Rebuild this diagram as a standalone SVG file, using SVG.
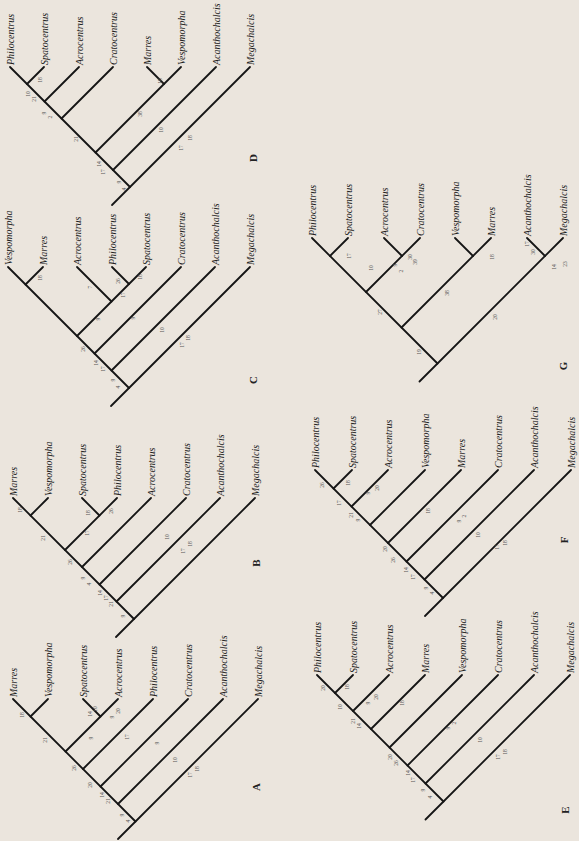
<svg xmlns="http://www.w3.org/2000/svg" width="579" height="841" viewBox="0 0 579 841">
<style>
.br{stroke:#151515;stroke-width:1.8;stroke-linecap:round;fill:none}
.tx{font-family:"Liberation Serif",serif;font-style:italic;font-size:10px;fill:#1e1e1e}
.n{font-family:"Liberation Serif",serif;font-size:5.5px;fill:#555;text-anchor:middle}
.lt{font-family:"Liberation Serif",serif;font-weight:bold;font-size:11px;fill:#222;text-anchor:middle}
</style>
<rect width="579" height="841" fill="#ebe5dd"/>

<!-- Tree D -->
<g id="tree-D">
<g id="D-edges" class="br">
<line x1="112" y1="205" x2="250" y2="67"/>
<line x1="130" y1="187" x2="10" y2="67"/>
<line x1="113" y1="170" x2="216" y2="67"/>
<line x1="95.5" y1="152.5" x2="181" y2="67"/>
<line x1="164" y1="84" x2="147" y2="67"/>
<line x1="61.5" y1="118.5" x2="113" y2="67"/>
<line x1="44.5" y1="101.5" x2="79" y2="67"/>
<line x1="27" y1="84" x2="44" y2="67"/>
</g>
<g id="D-taxa" class="tx">
<g id="D-Philocentrus"><text transform="translate(14,65) rotate(-90)">Philocentrus</text></g>
<g id="D-Spatocentrus"><text transform="translate(48,65) rotate(-90)">Spatocentrus</text></g>
<g id="D-Acrocentrus"><text transform="translate(83,65) rotate(-90)">Acrocentrus</text></g>
<g id="D-Cratocentrus"><text transform="translate(117,65) rotate(-90)">Cratocentrus</text></g>
<g id="D-Marres"><text transform="translate(151,65) rotate(-90)">Marres</text></g>
<g id="D-Vespomorpha"><text transform="translate(185,65) rotate(-90)">Vespomorpha</text></g>
<g id="D-Acanthochalcis"><text transform="translate(220,65) rotate(-90)">Acanthochalcis</text></g>
<g id="D-Megachalcis"><text transform="translate(254,65) rotate(-90)">Megachalcis</text></g>
</g>
<g id="D-nums" class="n">
<text transform="translate(40,80) rotate(-90)" dy="2">18</text>
<text transform="translate(28,94) rotate(-90)" dy="2">10</text>
<text transform="translate(34,99) rotate(-90)" dy="2">21</text>
<text transform="translate(44,113) rotate(-90)" dy="2">9</text>
<text transform="translate(50,117) rotate(-90)" dy="2">2</text>
<text transform="translate(76,139) rotate(-90)" dy="2">21</text>
<text transform="translate(140,114) rotate(-90)" dy="2">38</text>
<text transform="translate(160,81) rotate(-90)" dy="2">18</text>
<text transform="translate(161,130) rotate(-90)" dy="2">10</text>
<text transform="translate(181,148) rotate(-90)" dy="2">17</text>
<text transform="translate(190,138) rotate(-90)" dy="2">18</text>
<text transform="translate(99,164) rotate(-90)" dy="2">14</text>
<text transform="translate(103,172) rotate(-90)" dy="2">17</text>
<text transform="translate(119,182) rotate(-90)" dy="2">9</text>
<text transform="translate(124,189) rotate(-90)" dy="2">4</text>
</g>
<g id="D-label"><text class="lt" transform="translate(253,158) rotate(-90)" dy="4">D</text></g>
</g>

<!-- Tree C -->
<g id="tree-C">
<g id="C-edges" class="br">
<line x1="111" y1="406" x2="250" y2="267"/>
<line x1="129" y1="388" x2="8" y2="267"/>
<line x1="111.5" y1="370.5" x2="215" y2="267"/>
<line x1="94.5" y1="353.5" x2="181" y2="267"/>
<line x1="77" y1="336" x2="146" y2="267"/>
<line x1="25.5" y1="284.5" x2="43" y2="267"/>
<line x1="111.5" y1="301.5" x2="77" y2="267"/>
<line x1="129" y1="284" x2="112" y2="267"/>
</g>
<g id="C-taxa" class="tx">
<g id="C-Vespomorpha"><text transform="translate(12,265) rotate(-90)">Vespomorpha</text></g>
<g id="C-Marres"><text transform="translate(47,265) rotate(-90)">Marres</text></g>
<g id="C-Acrocentrus"><text transform="translate(81,265) rotate(-90)">Acrocentrus</text></g>
<g id="C-Philocentrus"><text transform="translate(116,265) rotate(-90)">Philocentrus</text></g>
<g id="C-Spatocentrus"><text transform="translate(150,265) rotate(-90)">Spatocentrus</text></g>
<g id="C-Cratocentrus"><text transform="translate(185,265) rotate(-90)">Cratocentrus</text></g>
<g id="C-Acanthochalcis"><text transform="translate(219,265) rotate(-90)">Acanthochalcis</text></g>
<g id="C-Megachalcis"><text transform="translate(254,265) rotate(-90)">Megachalcis</text></g>
</g>
<g id="C-nums" class="n">
<text transform="translate(40,278) rotate(-90)" dy="2">18</text>
<text transform="translate(90,287) rotate(-90)" dy="2">7</text>
<text transform="translate(118,281) rotate(-90)" dy="2">26</text>
<text transform="translate(140,277) rotate(-90)" dy="2">18</text>
<text transform="translate(123,295) rotate(-90)" dy="2">17</text>
<text transform="translate(98,319) rotate(-90)" dy="2">9</text>
<text transform="translate(133,318) rotate(-90)" dy="2">9</text>
<text transform="translate(162,330) rotate(-90)" dy="2">10</text>
<text transform="translate(182,345) rotate(-90)" dy="2">17</text>
<text transform="translate(188,338) rotate(-90)" dy="2">18</text>
<text transform="translate(83,349) rotate(-90)" dy="2">26</text>
<text transform="translate(96,363) rotate(-90)" dy="2">14</text>
<text transform="translate(103,369) rotate(-90)" dy="2">17</text>
<text transform="translate(113,380) rotate(-90)" dy="2">9</text>
<text transform="translate(118,387) rotate(-90)" dy="2">4</text>
</g>
<g id="C-label"><text class="lt" transform="translate(253,380) rotate(-90)" dy="4">C</text></g>
</g>

<!-- Tree B -->
<g id="tree-B">
<g id="B-edges" class="br">
<line x1="116" y1="637" x2="255" y2="498"/>
<line x1="134" y1="619" x2="13" y2="498"/>
<line x1="116.5" y1="601.5" x2="220" y2="498"/>
<line x1="99.5" y1="584.5" x2="186" y2="498"/>
<line x1="82" y1="567" x2="151" y2="498"/>
<line x1="65" y1="550" x2="117" y2="498"/>
<line x1="30.5" y1="515.5" x2="48" y2="498"/>
<line x1="99.5" y1="515.5" x2="82" y2="498"/>
</g>
<g id="B-taxa" class="tx">
<g id="B-Marres"><text transform="translate(17,496) rotate(-90)">Marres</text></g>
<g id="B-Vespomorpha"><text transform="translate(52,496) rotate(-90)">Vespomorpha</text></g>
<g id="B-Spatocentrus"><text transform="translate(86,496) rotate(-90)">Spatocentrus</text></g>
<g id="B-Philocentrus"><text transform="translate(121,496) rotate(-90)">Philocentrus</text></g>
<g id="B-Acrocentrus"><text transform="translate(155,496) rotate(-90)">Acrocentrus</text></g>
<g id="B-Cratocentrus"><text transform="translate(190,496) rotate(-90)">Cratocentrus</text></g>
<g id="B-Acanthochalcis"><text transform="translate(224,496) rotate(-90)">Acanthochalcis</text></g>
<g id="B-Megachalcis"><text transform="translate(259,496) rotate(-90)">Megachalcis</text></g>
</g>
<g id="B-nums" class="n">
<text transform="translate(20,510) rotate(-90)" dy="2">18</text>
<text transform="translate(43,538) rotate(-90)" dy="2">21</text>
<text transform="translate(88,513) rotate(-90)" dy="2">18</text>
<text transform="translate(111,511) rotate(-90)" dy="2">26</text>
<text transform="translate(87,533) rotate(-90)" dy="2">17</text>
<text transform="translate(167,537) rotate(-90)" dy="2">10</text>
<text transform="translate(183,551) rotate(-90)" dy="2">17</text>
<text transform="translate(190,544) rotate(-90)" dy="2">18</text>
<text transform="translate(70,562) rotate(-90)" dy="2">26</text>
<text transform="translate(83,578) rotate(-90)" dy="2">9</text>
<text transform="translate(89,584) rotate(-90)" dy="2">4</text>
<text transform="translate(100,593) rotate(-90)" dy="2">14</text>
<text transform="translate(106,598) rotate(-90)" dy="2">17</text>
<text transform="translate(111,604) rotate(-90)" dy="2">21</text>
<text transform="translate(123,616) rotate(-90)" dy="2">9</text>
</g>
<g id="B-label"><text class="lt" transform="translate(256,563) rotate(-90)" dy="4">B</text></g>
</g>

<!-- Tree A -->
<g id="tree-A">
<g id="A-edges" class="br">
<line x1="118" y1="839" x2="258" y2="699"/>
<line x1="135.5" y1="821.5" x2="13" y2="699"/>
<line x1="118" y1="804" x2="223" y2="699"/>
<line x1="100.5" y1="786.5" x2="188" y2="699"/>
<line x1="83" y1="769" x2="153" y2="699"/>
<line x1="65.5" y1="751.5" x2="118" y2="699"/>
<line x1="30.5" y1="716.5" x2="48" y2="699"/>
<line x1="100.5" y1="716.5" x2="83" y2="699"/>
</g>
<g id="A-taxa" class="tx">
<g id="A-Marres"><text transform="translate(17,697) rotate(-90)">Marres</text></g>
<g id="A-Vespomorpha"><text transform="translate(52,697) rotate(-90)">Vespomorpha</text></g>
<g id="A-Spatocentrus"><text transform="translate(87,697) rotate(-90)">Spatocentrus</text></g>
<g id="A-Acrocentrus"><text transform="translate(122,697) rotate(-90)">Acrocentrus</text></g>
<g id="A-Philocentrus"><text transform="translate(157,697) rotate(-90)">Philocentrus</text></g>
<g id="A-Cratocentrus"><text transform="translate(192,697) rotate(-90)">Cratocentrus</text></g>
<g id="A-Acanthochalcis"><text transform="translate(227,697) rotate(-90)">Acanthochalcis</text></g>
<g id="A-Megachalcis"><text transform="translate(262,697) rotate(-90)">Megachalcis</text></g>
</g>
<g id="A-nums" class="n">
<text transform="translate(22,715) rotate(-90)" dy="2">18</text>
<text transform="translate(45,740) rotate(-90)" dy="2">21</text>
<text transform="translate(90,714) rotate(-90)" dy="2">14</text>
<text transform="translate(95,709) rotate(-90)" dy="2">10</text>
<text transform="translate(112,717) rotate(-90)" dy="2">9</text>
<text transform="translate(118,711) rotate(-90)" dy="2">20</text>
<text transform="translate(91,738) rotate(-90)" dy="2">9</text>
<text transform="translate(127,737) rotate(-90)" dy="2">17</text>
<text transform="translate(157,743) rotate(-90)" dy="2">9</text>
<text transform="translate(175,760) rotate(-90)" dy="2">10</text>
<text transform="translate(190,775) rotate(-90)" dy="2">17</text>
<text transform="translate(197,769) rotate(-90)" dy="2">18</text>
<text transform="translate(74,768) rotate(-90)" dy="2">26</text>
<text transform="translate(90,785) rotate(-90)" dy="2">20</text>
<text transform="translate(102,795) rotate(-90)" dy="2">14</text>
<text transform="translate(108,801) rotate(-90)" dy="2">21</text>
<text transform="translate(122,815) rotate(-90)" dy="2">9</text>
<text transform="translate(128,821) rotate(-90)" dy="2">4</text>
</g>
<g id="A-label"><text class="lt" transform="translate(256,787) rotate(-90)" dy="4">A</text></g>
</g>

<!-- Tree G -->
<g id="tree-G">
<g id="G-edges" class="br">
<line x1="419.5" y1="381.5" x2="563" y2="238"/>
<line x1="437.5" y1="363.5" x2="312" y2="238"/>
<line x1="545" y1="256" x2="527" y2="238"/>
<line x1="401.5" y1="327.5" x2="491" y2="238"/>
<line x1="473" y1="256" x2="455" y2="238"/>
<line x1="366" y1="292" x2="420" y2="238"/>
<line x1="402" y1="256" x2="384" y2="238"/>
<line x1="330" y1="256" x2="348" y2="238"/>
</g>
<g id="G-taxa" class="tx">
<g id="G-Philocentrus"><text transform="translate(316,236) rotate(-90)">Philocentrus</text></g>
<g id="G-Spatocentrus"><text transform="translate(352,236) rotate(-90)">Spatocentrus</text></g>
<g id="G-Acrocentrus"><text transform="translate(388,236) rotate(-90)">Acrocentrus</text></g>
<g id="G-Cratocentrus"><text transform="translate(424,236) rotate(-90)">Cratocentrus</text></g>
<g id="G-Vespomorpha"><text transform="translate(459,236) rotate(-90)">Vespomorpha</text></g>
<g id="G-Marres"><text transform="translate(495,236) rotate(-90)">Marres</text></g>
<g id="G-Acanthochalcis"><text transform="translate(531,236) rotate(-90)">Acanthochalcis</text></g>
<g id="G-Megachalcis"><text transform="translate(567,236) rotate(-90)">Megachalcis</text></g>
</g>
<g id="G-nums" class="n">
<text transform="translate(349,256) rotate(-90)" dy="2">17</text>
<text transform="translate(371,268) rotate(-90)" dy="2">10</text>
<text transform="translate(395,265) rotate(-90)" dy="2">9</text>
<text transform="translate(401,271) rotate(-90)" dy="2">2</text>
<text transform="translate(410,257) rotate(-90)" dy="2">30</text>
<text transform="translate(415,262) rotate(-90)" dy="2">39</text>
<text transform="translate(380,312) rotate(-90)" dy="2">27</text>
<text transform="translate(447,293) rotate(-90)" dy="2">38</text>
<text transform="translate(492,257) rotate(-90)" dy="2">18</text>
<text transform="translate(527,244) rotate(-90)" dy="2">17</text>
<text transform="translate(533,252) rotate(-90)" dy="2">30</text>
<text transform="translate(554,267) rotate(-90)" dy="2">14</text>
<text transform="translate(565,264) rotate(-90)" dy="2">23</text>
<text transform="translate(495,317) rotate(-90)" dy="2">20</text>
<text transform="translate(419,352) rotate(-90)" dy="2">19</text>
</g>
<g id="G-label"><text class="lt" transform="translate(563,366) rotate(-90)" dy="4">G</text></g>
</g>

<!-- Tree F -->
<g id="tree-F">
<g id="F-edges" class="br">
<line x1="425" y1="616" x2="571" y2="470"/>
<line x1="443" y1="598" x2="315" y2="470"/>
<line x1="424.5" y1="579.5" x2="534" y2="470"/>
<line x1="406.5" y1="561.5" x2="498" y2="470"/>
<line x1="388" y1="543" x2="461" y2="470"/>
<line x1="370" y1="525" x2="425" y2="470"/>
<line x1="351.5" y1="506.5" x2="388" y2="470"/>
<line x1="333.5" y1="488.5" x2="352" y2="470"/>
</g>
<g id="F-taxa" class="tx">
<g id="F-Philocentrus"><text transform="translate(319,468) rotate(-90)">Philocentrus</text></g>
<g id="F-Spatocentrus"><text transform="translate(356,468) rotate(-90)">Spatocentrus</text></g>
<g id="F-Acrocentrus"><text transform="translate(392,468) rotate(-90)">Acrocentrus</text></g>
<g id="F-Vespomorpha"><text transform="translate(429,468) rotate(-90)">Vespomorpha</text></g>
<g id="F-Marres"><text transform="translate(465,468) rotate(-90)">Marres</text></g>
<g id="F-Cratocentrus"><text transform="translate(502,468) rotate(-90)">Cratocentrus</text></g>
<g id="F-Acanthochalcis"><text transform="translate(538,468) rotate(-90)">Acanthochalcis</text></g>
<g id="F-Megachalcis"><text transform="translate(575,468) rotate(-90)">Megachalcis</text></g>
</g>
<g id="F-nums" class="n">
<text transform="translate(322,485) rotate(-90)" dy="2">26</text>
<text transform="translate(348,483) rotate(-90)" dy="2">18</text>
<text transform="translate(339,503) rotate(-90)" dy="2">17</text>
<text transform="translate(368,493) rotate(-90)" dy="2">9</text>
<text transform="translate(377,488) rotate(-90)" dy="2">20</text>
<text transform="translate(351,515) rotate(-90)" dy="2">21</text>
<text transform="translate(358,520) rotate(-90)" dy="2">9</text>
<text transform="translate(428,511) rotate(-90)" dy="2">18</text>
<text transform="translate(459,521) rotate(-90)" dy="2">9</text>
<text transform="translate(464,516) rotate(-90)" dy="2">2</text>
<text transform="translate(478,535) rotate(-90)" dy="2">10</text>
<text transform="translate(497,547) rotate(-90)" dy="2">17</text>
<text transform="translate(505,543) rotate(-90)" dy="2">18</text>
<text transform="translate(385,549) rotate(-90)" dy="2">20</text>
<text transform="translate(393,560) rotate(-90)" dy="2">26</text>
<text transform="translate(406,570) rotate(-90)" dy="2">14</text>
<text transform="translate(413,577) rotate(-90)" dy="2">17</text>
<text transform="translate(426,588) rotate(-90)" dy="2">9</text>
<text transform="translate(432,593) rotate(-90)" dy="2">4</text>
</g>
<g id="F-label"><text class="lt" transform="translate(564,540) rotate(-90)" dy="4">F</text></g>
</g>

<!-- Tree E -->
<g id="tree-E">
<g id="E-edges" class="br">
<line x1="425.5" y1="819.5" x2="570" y2="675"/>
<line x1="443.5" y1="801.5" x2="317" y2="675"/>
<line x1="425.5" y1="783.5" x2="534" y2="675"/>
<line x1="407.5" y1="765.5" x2="498" y2="675"/>
<line x1="389.5" y1="747.5" x2="462" y2="675"/>
<line x1="371" y1="729" x2="425" y2="675"/>
<line x1="353" y1="711" x2="389" y2="675"/>
<line x1="335" y1="693" x2="353" y2="675"/>
</g>
<g id="E-taxa" class="tx">
<g id="E-Philocentrus"><text transform="translate(321,673) rotate(-90)">Philocentrus</text></g>
<g id="E-Spatocentrus"><text transform="translate(357,673) rotate(-90)">Spatocentrus</text></g>
<g id="E-Acrocentrus"><text transform="translate(393,673) rotate(-90)">Acrocentrus</text></g>
<g id="E-Marres"><text transform="translate(429,673) rotate(-90)">Marres</text></g>
<g id="E-Vespomorpha"><text transform="translate(466,673) rotate(-90)">Vespomorpha</text></g>
<g id="E-Cratocentrus"><text transform="translate(502,673) rotate(-90)">Cratocentrus</text></g>
<g id="E-Acanthochalcis"><text transform="translate(538,673) rotate(-90)">Acanthochalcis</text></g>
<g id="E-Megachalcis"><text transform="translate(574,673) rotate(-90)">Megachalcis</text></g>
</g>
<g id="E-nums" class="n">
<text transform="translate(323,688) rotate(-90)" dy="2">20</text>
<text transform="translate(347,687) rotate(-90)" dy="2">18</text>
<text transform="translate(340,707) rotate(-90)" dy="2">10</text>
<text transform="translate(353,721) rotate(-90)" dy="2">21</text>
<text transform="translate(359,726) rotate(-90)" dy="2">14</text>
<text transform="translate(368,703) rotate(-90)" dy="2">9</text>
<text transform="translate(376,697) rotate(-90)" dy="2">20</text>
<text transform="translate(402,703) rotate(-90)" dy="2">18</text>
<text transform="translate(448,728) rotate(-90)" dy="2">9</text>
<text transform="translate(454,723) rotate(-90)" dy="2">2</text>
<text transform="translate(480,740) rotate(-90)" dy="2">10</text>
<text transform="translate(498,757) rotate(-90)" dy="2">17</text>
<text transform="translate(505,752) rotate(-90)" dy="2">18</text>
<text transform="translate(390,757) rotate(-90)" dy="2">20</text>
<text transform="translate(396,763) rotate(-90)" dy="2">26</text>
<text transform="translate(408,773) rotate(-90)" dy="2">14</text>
<text transform="translate(413,780) rotate(-90)" dy="2">17</text>
<text transform="translate(423,790) rotate(-90)" dy="2">9</text>
<text transform="translate(430,797) rotate(-90)" dy="2">4</text>
</g>
<g id="E-label"><text class="lt" transform="translate(565,810) rotate(-90)" dy="4">E</text></g>
</g>
</svg>
